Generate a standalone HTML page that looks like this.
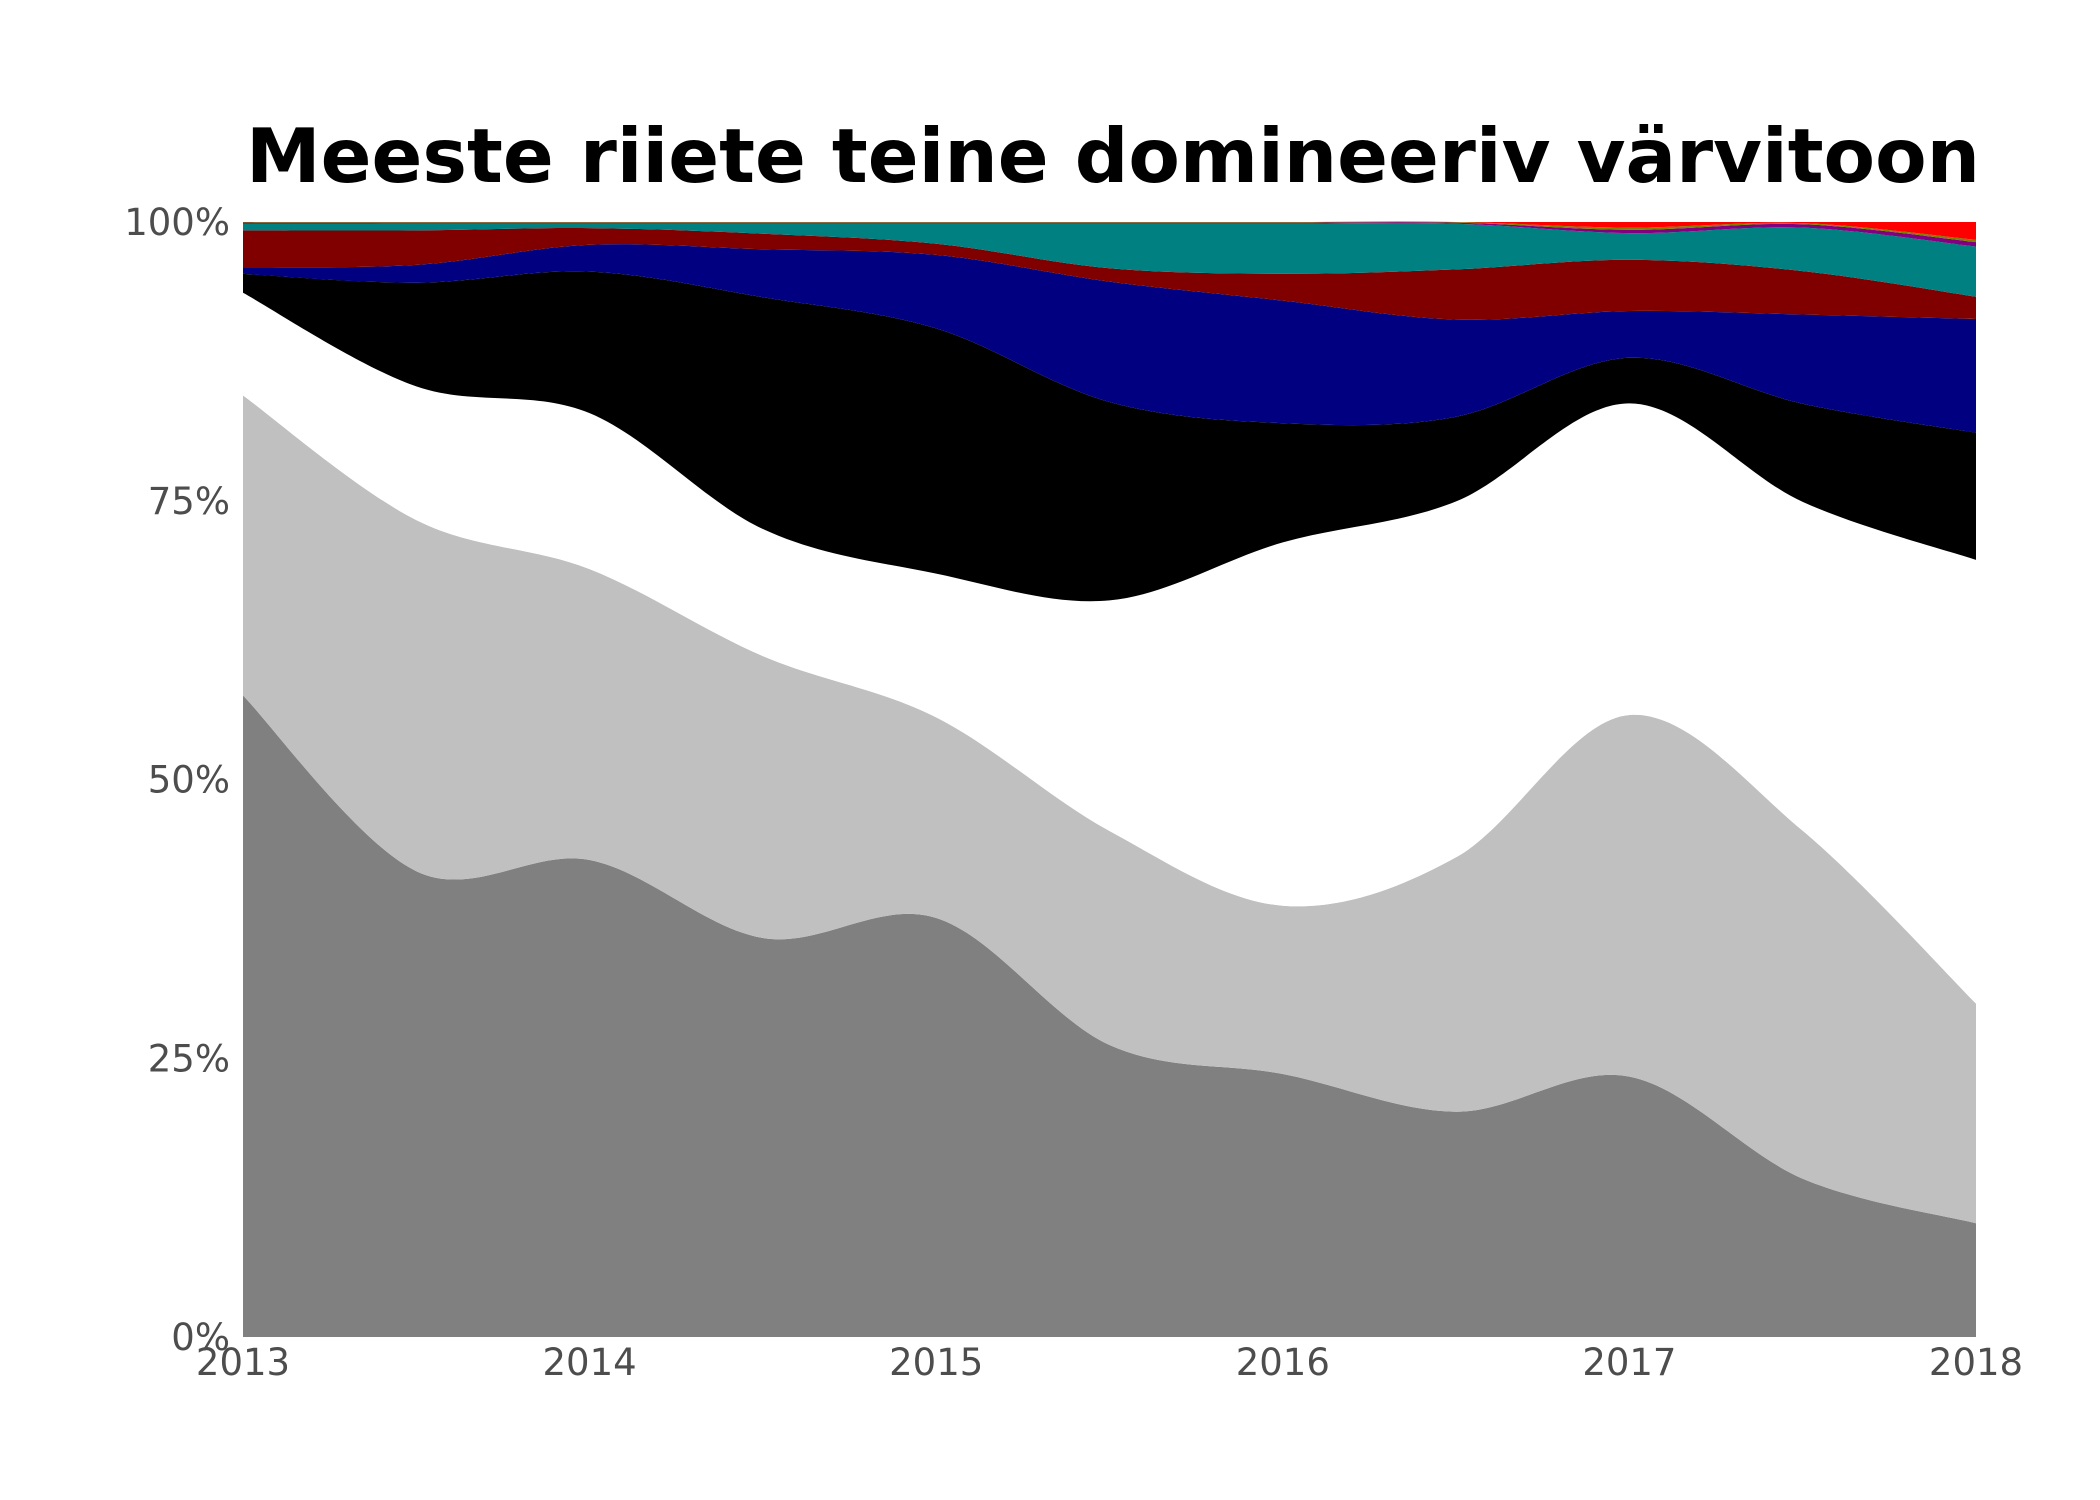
<!DOCTYPE html>
<html><head><meta charset="utf-8"><style>
html,body{margin:0;padding:0;background:#fff;}
svg{display:block;}
</style></head><body>
<svg id="chart" width="2100" height="1500" xmlns="http://www.w3.org/2000/svg" font-family="'DejaVu Sans','Liberation Sans',sans-serif">
<text x="1113" y="182" text-anchor="middle" font-size="75" font-weight="bold" fill="#000">Meeste riiete teine domineeriv värvitoon</text>
<g id="areas"></g>
<g id="yticks"></g>
<g id="xticks"></g>
</svg>
<script>
const times = [2013,2013.5,2014,2014.5,2015,2015.5,2016,2016.5,2017,2017.5,2018];
const grayVals   = [57.5,41.8,42.8,35.8,37.6,26.2,23.6,20.2,23.4,14.2,10.2];
const silverVals = [26.9,31.5,26.1,25.3,18.0,19.2,15.1,22.8,32.5,31.2,19.7];
const whiteVals  = [9.2,12.0,14.0,11.4,12.9,20.7,32.6,31.9,28.0,29.5,39.8];
const blackVals  = [1.7,9.3,12.7,20.8,22.0,17.8,10.7,7.6,4.1,8.8,11.4];
const navyVals   = [0.6,1.6,2.4,4.3,6.6,10.8,11.0,8.7,4.2,8.0,10.2];
const maroonVals = [3.3,3.1,1.5,1.4,1.0,1.2,2.4,4.5,4.6,3.9,2.0];
const tealVals   = [0.6,0.6,0.4,0.9,1.8,4.0,4.5,4.1,2.4,3.9,4.5];
const purpleVals = [0.1,0.1,0.1,0.1,0.1,0.1,0.1,0.1,0.3,0.3,0.4];
const oliveVals  = [0.05,0.05,0.05,0.05,0.05,0.05,0.05,0.05,0.2,0.1,0.2];
const redVals    = [0,0,0,0,0,0,0,0,0.5,0.1,1.6];
const seriesNames = ['gray','silver','white','black','navy','maroon','teal','purple','olive','red'];
const seriesColors = ['#808080','#c0c0c0','#ffffff','#000000','#000080','#800000','#008080','#800080','#808000','#ff0000'];
const xTickLabels = ['2013','2014','2015','2016','2017','2018'];
const xTickValues = [2013,2014,2015,2016,2017,2018];
const yTickLabels = ['0%','25%','50%','75%','100%'];
const yTickValues = [0,0.25,0.5,0.75,1];

const L=243,R=1976,T=222,B=1337;
const xS = t => L + (t-2013)/(2018-2013)*(R-L);
const yS = v => B - v*(B-T);
const all=[grayVals,silverVals,whiteVals,blackVals,navyVals,maroonVals,tealVals,purpleVals,oliveVals,redVals];
const totals = times.map((_,i)=>all.reduce((s,a)=>s+a[i],0));
let cum = times.map(()=>0);
const bounds=[cum.slice()];
all.forEach(a=>{cum=cum.map((c,i)=>c+a[i]/totals[i]);bounds.push(cum.slice());});

function curve(pts){
  let d='';
  for(let i=0;i<pts.length-1;i++){
    const p0=pts[Math.max(i-1,0)],p1=pts[i],p2=pts[i+1],p3=pts[Math.min(i+2,pts.length-1)];
    const c1=[p1[0]+(p2[0]-p0[0])/6,p1[1]+(p2[1]-p0[1])/6];
    const c2=[p2[0]-(p3[0]-p1[0])/6,p2[1]-(p3[1]-p1[1])/6];
    d+=` C${c1[0].toFixed(1)},${c1[1].toFixed(1)} ${c2[0].toFixed(1)},${c2[1].toFixed(1)} ${p2[0].toFixed(1)},${p2[1].toFixed(1)}`;
  }
  return d;
}
const NS='http://www.w3.org/2000/svg';
const ga=document.getElementById('areas');
for(let s=0;s<all.length;s++){
  const top=times.map((t,i)=>[xS(t),yS(bounds[s+1][i])]);
  const bot=times.map((t,i)=>[xS(t),yS(bounds[s][i])]).reverse();
  const d=`M${top[0][0]},${top[0][1]}`+curve(top)+` L${bot[0][0]},${bot[0][1]}`+curve(bot)+'Z';
  const p=document.createElementNS(NS,'path');
  p.setAttribute('d',d);
  p.setAttribute('fill',seriesColors[s]);
  
  
  ga.appendChild(p);
}
const gy=document.getElementById('yticks');
yTickValues.forEach((v,i)=>{
  const t=document.createElementNS(NS,'text');
  t.setAttribute('x',230);t.setAttribute('y',yS(v)+13);
  t.setAttribute('text-anchor','end');t.setAttribute('font-size','37');t.setAttribute('fill','#4d4d4d');
  t.textContent=yTickLabels[i];
  
  
  gy.appendChild(t);
});
const gx=document.getElementById('xticks');
xTickValues.forEach((v,i)=>{
  const t=document.createElementNS(NS,'text');
  t.setAttribute('x',xS(v));t.setAttribute('y',1375);
  t.setAttribute('text-anchor','middle');t.setAttribute('font-size','37');t.setAttribute('fill','#4d4d4d');
  t.textContent=xTickLabels[i];
  
  
  gx.appendChild(t);
});
</script>
</body></html>
